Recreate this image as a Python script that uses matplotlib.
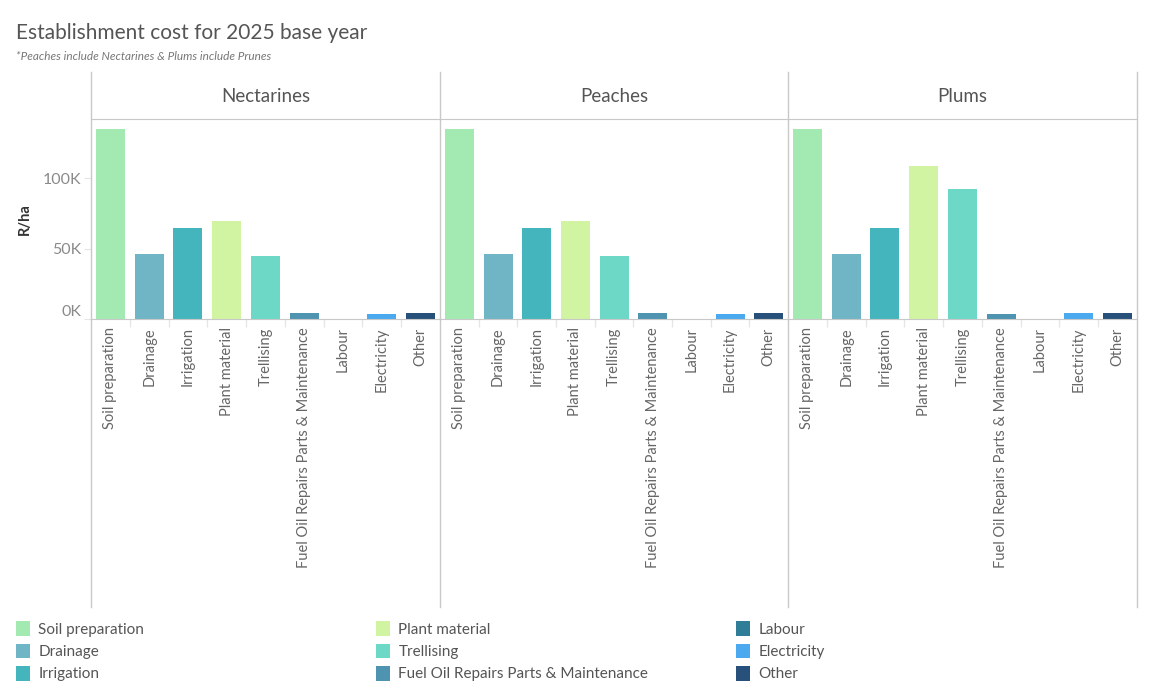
import matplotlib
matplotlib.use("Agg")
import matplotlib.pyplot as plt
from matplotlib.patches import Patch
from matplotlib.lines import Line2D
from matplotlib.ticker import FuncFormatter

plt.rcParams['font.family'] = ['Lato', 'DejaVu Sans']

# data
fruits = ["Nectarines", "Peaches", "Plums"]
categories = ["Soil preparation", "Drainage", "Irrigation", "Plant material", "Trellising",
              "Fuel Oil Repairs Parts & Maintenance", "Labour", "Electricity", "Other"]
nectarines = [135000, 46000, 64500, 69500, 45000, 4500, 0, 3500, 4500]
peaches = [135000, 46000, 64500, 69500, 45000, 4500, 0, 3500, 4500]
plums = [135000, 46000, 64500, 108500, 92000, 3500, 0, 4300, 4300]
values = [nectarines, peaches, plums]
colors = ["#a3eab2", "#6fb5c5", "#45b5bd", "#d0f4a2", "#6dd8c6",
          "#4e93b0", "#2f7d96", "#4aa9ef", "#27517a"]

W, H = 1150, 700
fig = plt.figure(figsize=(W / 100, H / 100), dpi=100)

grid_c = "#c8c8c8"
text_c = "#666666"

left_edges = [91, 440, 788]
panel_w = [349, 348, 349]
top_y, base_y = 119, 319

for i in range(3):
    ax = fig.add_axes([left_edges[i] / W, (H - base_y) / H, panel_w[i] / W, (base_y - top_y) / H])
    x = list(range(len(categories)))
    ax.bar(x, values[i], width=0.75, color=colors)
    ax.set_xlim(-0.5, len(categories) - 0.5)
    ax.set_ylim(0, 142000)
    ax.set_xticks(x)
    ax.set_xticklabels(categories, rotation=90, fontsize=10.5, color=text_c)
    ax.set_xticks([k + 0.5 for k in range(len(categories) - 1)], minor=True)
    ax.tick_params(axis="x", which="major", length=0, pad=6)
    ax.tick_params(axis="x", which="minor", length=6, color="#e6e6e6", width=1)
    for s in ["left", "right"]:
        ax.spines[s].set_visible(False)
    ax.spines["top"].set_color(grid_c)
    ax.spines["bottom"].set_color(grid_c)
    if i == 0:
        ax.set_yticks([0, 50000, 100000])
        ax.yaxis.set_major_formatter(FuncFormatter(lambda v, p: f"{int(v / 1000)}K"))
        ax.tick_params(axis="y", length=5, color="#e6e6e6", labelsize=11.5, labelcolor="#8a8a8a", pad=2)
        ax.get_yticklabels()[0].set_verticalalignment("bottom")
        ax.set_ylabel("R/ha", fontsize=10.5, color="#333333", labelpad=8, fontweight="bold")
    else:
        ax.set_yticks([])
    fig.text((left_edges[i] + panel_w[i] / 2) / W, 1 - 97 / H, fruits[i],
             ha="center", va="center", fontsize=13.5, color="#555555")

# panel dividers
for xp in [91, 440, 788, 1137]:
    fig.add_artist(Line2D([xp / W, xp / W], [1 - 72 / H, 1 - 607 / H], color=grid_c, lw=1))

fig.text(16 / W, 1 - 33 / H, "Establishment cost for 2025 base year",
         fontsize=15, color="#555555", va="center")
fig.text(16 / W, 1 - 56 / H, "*Peaches include Nectarines & Plums include Prunes",
         fontsize=8.5, color="#777777", style="italic", va="center")

# legend, three columns
col_x = [10, 370, 730]
for c in range(3):
    handles = [Patch(facecolor=colors[k], label=categories[k]) for k in range(c * 3, c * 3 + 3)]
    fig.legend(handles=handles, loc="upper left", bbox_to_anchor=(col_x[c] / W, 1 - 615 / H),
               frameon=False, fontsize=11, labelcolor="#555555", handlelength=0.9,
               handleheight=1.1, handletextpad=0.55, labelspacing=0.45, borderaxespad=0)

fig.savefig("out.png", dpi=100)
